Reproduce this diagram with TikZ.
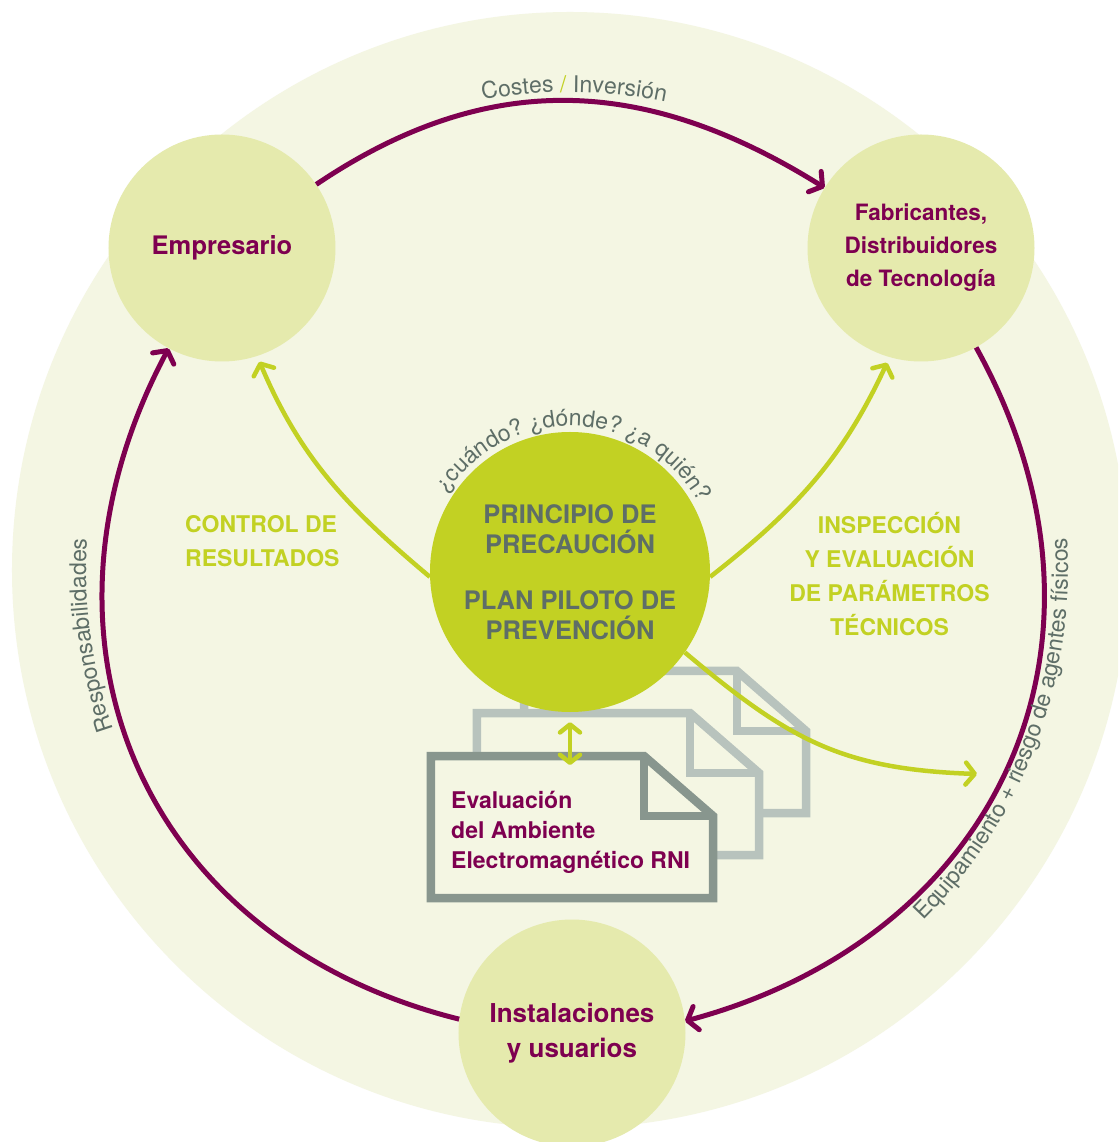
\documentclass[tikz,border=0pt]{standalone}
\usepackage{fontspec}
\setmainfont{TeX Gyre Heros}
\usepackage{xcolor}
\usetikzlibrary{arrows.meta,decorations.text}

\definecolor{cbg}{HTML}{F4F6E3}
\definecolor{cpale}{HTML}{E5EAAD}
\definecolor{clime}{HTML}{C2D123}
\definecolor{cpurple}{HTML}{7E0050}
\definecolor{cgray}{HTML}{5E6E67}
\definecolor{cdocd}{HTML}{88968E}
\definecolor{cdocl}{HTML}{B8C3BD}

\newcommand{\softfont}{\fontsize{23}{28}\selectfont}

\tikzset{
  actor/.style={circle, fill=cpale, text=cpurple, inner sep=0pt, minimum size=227pt,
    align=center, font=\bfseries\fontsize{25.5}{35}\selectfont},
  ringarrow/.style={draw=cpurple, line width=5pt, -{Straight Barb[length=9pt,width=24pt,round]}},
  limearrow/.style={draw=clime, line width=4.5pt, shorten >=6pt, -{Straight Barb[length=9pt,width=22pt,round]}},
  sheet/.style={line width=8.5pt, fill=cbg},
  sheetfold/.style={line width=8.5pt},
  greenlabel/.style={text=clime, inner sep=0pt, font=\bfseries\fontsize{23}{34}\selectfont},
  curvedtext/.style={decorate, decoration={text along path, text align=center,
    text={|\softfont\color{cgray}|#1}}}
}

\begin{document}
\begin{tikzpicture}[x=1pt,y=1pt]
  \useasboundingbox (-570,-572) rectangle (548,570);
  \clip (-570,-572) rectangle (548,570);
  \fill[white] (-570,-572) rectangle (548,570);
  \fill[cbg] (0,0) circle[radius=558pt];

  \foreach \dx/\dy/\col in {-46/-101/cdocl, -93/-143/cdocl, -139/-186/cdocd}{
    \draw[sheet, draw=\col] (\dx,\dy) -- ++(213,0) -- ++(69,-60) -- ++(0,-82) -- ++(-282,0) -- cycle;
    \draw[sheetfold, draw=\col] ({\dx+213},\dy) -- ++(0,-60) -- ++(69,0);
  }

  \node[actor] (emp) at (-348,322) {Empresario};
  \node[actor, font=\bfseries\fontsize{22.5}{33}\selectfont] (fab) at (351,322)
    {Fabricantes,\\Distribuidores\\de Tecnología};
  \node[actor, font=\bfseries\fontsize{26}{35}\selectfont] (inst) at (2,-463) {Instalaciones\\y usuarios};
  \node[circle, fill=clime, text=cgray, inner sep=0pt, minimum size=280pt, align=center,
    font=\bfseries\fontsize{25.5}{30}\selectfont] (prin) at (0,-2)
    {PRINCIPIO DE\\PRECAUCIÓN\\[26pt]PLAN PILOTO DE\\PREVENCIÓN};

  \node[greenlabel, anchor=west, align=left] (ctrl) at (-385,28.5) {CONTROL DE\\RESULTADOS};
  \node[greenlabel, align=center] (insp) at (319.5,-4) {INSPECCIÓN\\Y EVALUACIÓN\\DE PARÁMETROS\\TÉCNICOS};
  \node[anchor=west, align=left, text=cpurple, inner sep=0pt,
    font=\bfseries\fontsize{23}{30}\selectfont] (eval) at (-119,-262)
    {Evaluación\\del Ambiente\\Electromagnético RNI};

  \draw[ringarrow] (emp) to[out=34, in=148, looseness=1.05] (fab);
  \draw[ringarrow] (fab) to[out=-61, in=15, looseness=1.15] (inst.6);
  \draw[ringarrow] (inst.173) to[out=166, in=-118, looseness=1.15] (emp);

  \coordinate (equip) at (407,-204);
  \coordinate (evaltop) at (0,-195);
  \draw[limearrow] (prin.182) to[out=140, in=-67] (emp.-72);
  \draw[limearrow] (prin.-2) to[out=38, in=-115] (fab.-106);
  \draw[limearrow, shorten >=0pt] (prin.-35) to[out=-40, in=178, looseness=1.1] (equip);
  \draw[limearrow, shorten >=0pt, shorten <=10pt,
    {Straight Barb[length=8pt,width=20pt,round]}-{Straight Barb[length=8pt,width=20pt,round]}]
    (prin.south) -- (evaltop);

  \path[curvedtext={Costes |\softfont\color{clime}|/|\softfont\color{cgray}| Inversión}]
    (109.5:478) arc[start angle=109.5, end angle=69.5, radius=478pt];
  \path[curvedtext={¿cuándo? ¿dónde? ¿a quién?}]
    ([shift={(0,-2)}]160:146) arc[start angle=160, end angle=16, radius=146pt];
  \path[curvedtext={Responsabilidades}]
    (217.8:484) arc[start angle=217.8, end angle=157.8, radius=484pt];
  \path[curvedtext={Equipamiento + riesgo de agentes físicos}]
    (-50.55:498) arc[start angle=-50.55, end angle=9.45, radius=498pt];
\end{tikzpicture}
\end{document}
